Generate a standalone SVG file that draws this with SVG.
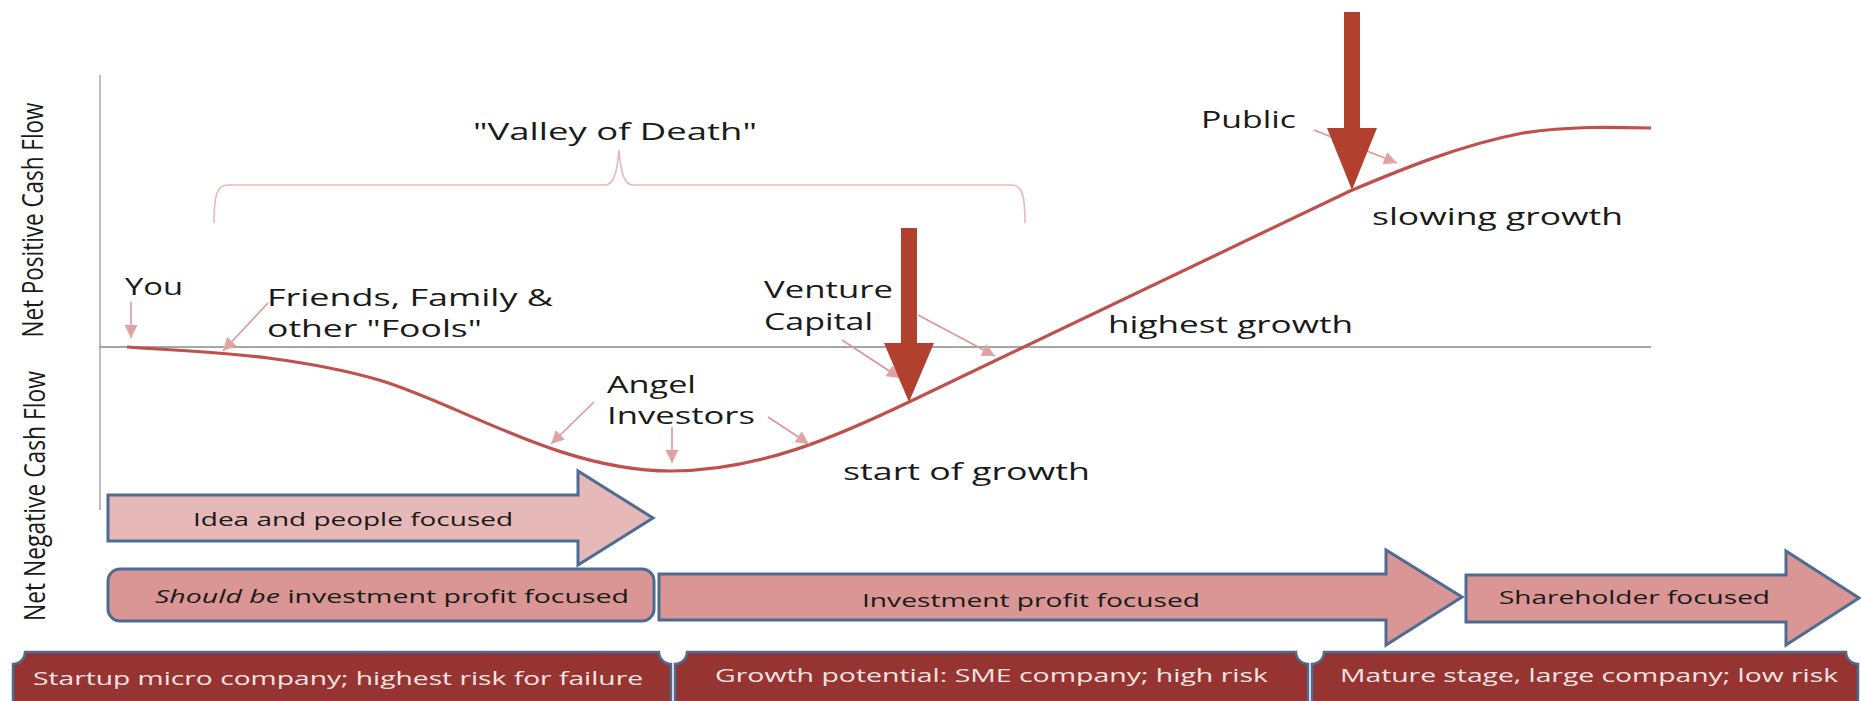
<svg xmlns="http://www.w3.org/2000/svg" width="1861" height="701" viewBox="0 0 1861 701">
<defs>
<style>
.lbl{font-family:"Open Sans","DejaVu Sans",sans-serif;font-size:24px;fill:#1a1a1a}
.ax{font-family:"Open Sans","DejaVu Sans",sans-serif;font-size:29px;fill:#1a1a1a}
.box{font-family:"Open Sans","DejaVu Sans",sans-serif;font-size:18px;fill:#1a1a1a}
.wbox{font-family:"Open Sans","DejaVu Sans",sans-serif;font-size:18px;fill:#f6e4e3}
.pink{stroke:#d99694;stroke-width:1.5;fill:none}
.big{fill:#b1402f}
.stage{stroke:#4d6b93;stroke-width:3;stroke-linejoin:miter}
.plaque{fill:#963432;stroke:#4d6b93;stroke-width:2.5}
</style>
<marker id="ph" viewBox="0 0 10 10" refX="10" refY="5" markerWidth="15" markerHeight="13" markerUnits="userSpaceOnUse" orient="auto">
<path d="M0,0 L10,5 L0,10 Z" fill="#e0a3a2"/>
</marker>
</defs>
<rect width="1861" height="701" fill="#ffffff"/>

<g id="axes">
<line x1="100" y1="75" x2="100" y2="510" stroke="#a6a6a6" stroke-width="1.5"/>
<line x1="99" y1="347" x2="1651" y2="347" stroke="#a6a6a6" stroke-width="2"/>
<text class="ax" transform="translate(43,220) rotate(-90)" text-anchor="middle" textLength="235" lengthAdjust="spacingAndGlyphs">Net Positive Cash Flow</text>
<text class="ax" transform="translate(45,496) rotate(-90)" text-anchor="middle" textLength="250" lengthAdjust="spacingAndGlyphs">Net Negative Cash Flow</text>
</g>

<g id="valley">
<path d="M214,223 C214,195 217,185 228,185 L605,185 C613,185 617,175 619,150 C621,175 625,185 633,185 L1012,185 C1022,185 1025,195 1025,223" fill="none" stroke="#e6b9b8" stroke-width="1.6"/>
<text class="lbl" x="473" y="140" textLength="284" lengthAdjust="spacingAndGlyphs">"Valley of Death"</text>
</g>

<g id="curve">
<path d="M127,347 C150.5,348.8 226,352.5 268,358 C310,363.5 341.8,369.2 379,380 C460,404 560,471 671,471 C760,471 840,435 909,402 L1350,191 C1400,170 1460,145 1523,133 C1570,126 1610,127 1651,128" fill="none" stroke="#c0504d" stroke-width="3.2"/>
</g>

<g id="connectors">
<line class="pink" x1="131" y1="302" x2="131" y2="338" marker-end="url(#ph)"/>
<line class="pink" x1="268" y1="303" x2="223" y2="351" marker-end="url(#ph)"/>
<line class="pink" x1="594" y1="402" x2="551" y2="444" marker-end="url(#ph)"/>
<line class="pink" x1="672" y1="427" x2="672" y2="463" marker-end="url(#ph)"/>
<line class="pink" x1="768" y1="417" x2="809" y2="444" marker-end="url(#ph)"/>
<line class="pink" x1="842" y1="340" x2="900" y2="378" marker-end="url(#ph)"/>
<line class="pink" x1="918" y1="315" x2="995" y2="356" marker-end="url(#ph)"/>
<line class="pink" x1="1314" y1="130" x2="1397" y2="163" marker-end="url(#ph)"/>
</g>

<g id="vc-arrow">
<path class="big" d="M901,228 H917 V343 H934 L909,402 L884,343 H901 Z"/>
</g>
<g id="public-arrow">
<path class="big" d="M1344,12 H1360 V128 H1377 L1352,190 L1327,128 H1344 Z"/>
</g>

<g id="labels">
<text class="lbl" x="125" y="295" textLength="58" lengthAdjust="spacingAndGlyphs">You</text>
<text class="lbl" x="267" y="306" textLength="286" lengthAdjust="spacingAndGlyphs">Friends, Family &amp;</text>
<text class="lbl" x="267" y="337" textLength="215" lengthAdjust="spacingAndGlyphs">other "Fools"</text>
<text class="lbl" x="607" y="393" textLength="89" lengthAdjust="spacingAndGlyphs">Angel</text>
<text class="lbl" x="607" y="424" textLength="148" lengthAdjust="spacingAndGlyphs">Investors</text>
<text class="lbl" x="843" y="480" textLength="247" lengthAdjust="spacingAndGlyphs">start of growth</text>
<text class="lbl" x="764" y="298" textLength="129" lengthAdjust="spacingAndGlyphs">Venture</text>
<text class="lbl" x="764" y="330" textLength="109" lengthAdjust="spacingAndGlyphs">Capital</text>
<text class="lbl" x="1108" y="333" textLength="245" lengthAdjust="spacingAndGlyphs">highest growth</text>
<text class="lbl" x="1201" y="128" textLength="95" lengthAdjust="spacingAndGlyphs">Public</text>
<text class="lbl" x="1372" y="225" textLength="251" lengthAdjust="spacingAndGlyphs">slowing growth</text>
</g>

<g id="idea-arrow">
<path class="stage" d="M108,495 H578 V471 L653,518 L578,565 V541 H108 Z" fill="#e6b9b8"/>
<text class="box" x="193" y="526" textLength="320" lengthAdjust="spacingAndGlyphs">Idea and people focused</text>
</g>
<g id="shouldbe-box">
<rect class="stage" x="108" y="569" width="546" height="52" rx="12" fill="#d99694"/>
<text class="box" x="155" y="603" textLength="474" lengthAdjust="spacingAndGlyphs"><tspan font-style="italic">Should be</tspan> investment profit focused</text>
</g>
<g id="investment-arrow">
<path class="stage" d="M659,574 H1386 V550 L1462,597 L1386,645 V620 H659 Z" fill="#d99694"/>
<text class="box" x="862" y="607" textLength="338" lengthAdjust="spacingAndGlyphs">Investment profit focused</text>
</g>
<g id="shareholder-arrow">
<path class="stage" d="M1466,575 H1786 V551 L1859,598 L1786,645 V622 H1466 Z" fill="#d99694"/>
<text class="box" x="1499" y="604" textLength="271" lengthAdjust="spacingAndGlyphs">Shareholder focused</text>
</g>

<g id="stage-startup">
<path class="plaque" d="M25,652 H659 A12 12 0 0 0 671,664 V738 A12 12 0 0 0 659,750 H25 A12 12 0 0 0 13,738 V664 A12 12 0 0 0 25,652 Z"/>
<text class="wbox" x="33" y="685" textLength="610" lengthAdjust="spacingAndGlyphs">Startup micro company; highest risk for failure</text>
</g>
<g id="stage-growth">
<path class="plaque" d="M687,652 H1296 A12 12 0 0 0 1308,664 V738 A12 12 0 0 0 1296,750 H687 A12 12 0 0 0 675,738 V664 A12 12 0 0 0 687,652 Z"/>
<text class="wbox" x="715" y="682" textLength="553" lengthAdjust="spacingAndGlyphs">Growth potential: SME company; high risk</text>
</g>
<g id="stage-mature">
<path class="plaque" d="M1324,652 H1846 A12 12 0 0 0 1858,664 V738 A12 12 0 0 0 1846,750 H1324 A12 12 0 0 0 1312,738 V664 A12 12 0 0 0 1324,652 Z"/>
<text class="wbox" x="1340" y="682" textLength="498" lengthAdjust="spacingAndGlyphs">Mature stage, large company; low risk</text>
</g>
</svg>
